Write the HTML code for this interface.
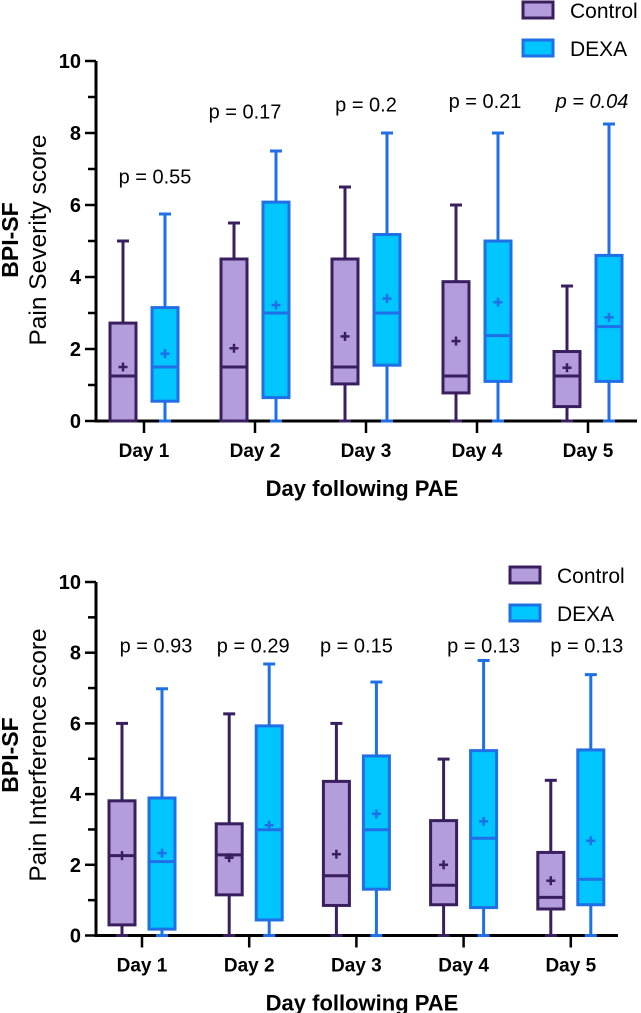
<!DOCTYPE html>
<html><head><meta charset="utf-8"><style>
body{margin:0;background:#fff}
svg{display:block;font-family:"Liberation Sans",Arial,sans-serif}
</style></head><body>
<svg id="chart" width="641" height="1013" viewBox="0 0 641 1013"></svg>
<script>
const days=["Day 1","Day 2","Day 3","Day 4","Day 5"];
// [min,q1,median,q3,max,mean]
const sevControl=[[0,0,1.25,2.72,5,1.5],[0,0,1.5,4.5,5.5,2.02],[0,1.03,1.5,4.5,6.5,2.35],[0,0.78,1.25,3.87,6,2.22],[0,0.4,1.25,1.93,3.75,1.48]];
const sevDexa=[[0,0.55,1.5,3.15,5.75,1.87],[0,0.65,3,6.08,7.5,3.22],[0,1.55,3,5.18,8,3.4],[0,1.1,2.37,5,8,3.3],[0,1.1,2.62,4.6,8.25,2.88]];
const sevP=["p = 0.55","p = 0.17","p = 0.2","p = 0.21","p = 0.04"];
const sevPVal=[6.6,8.4,8.6,8.7,8.7];
const intControl=[[0,0.3,2.26,3.81,6,2.26],[0,1.15,2.28,3.16,6.27,2.2],[0,0.85,1.69,4.36,6,2.3],[0,0.87,1.42,3.25,4.99,2.0],[0,0.75,1.08,2.35,4.39,1.55]];
const intDexa=[[0,0.18,2.09,3.89,6.98,2.33],[0,0.44,2.99,5.93,7.68,3.12],[0,1.31,2.99,5.08,7.17,3.44],[0,0.79,2.75,5.23,7.78,3.23],[0,0.87,1.59,5.25,7.38,2.68]];
const intP=["p = 0.93","p = 0.29","p = 0.15","p = 0.13","p = 0.13"];
const intPVal=[8.0,8.0,8.0,8.0,8.0];
const yTicks=[0,2,4,6,8,10];

const svg=document.getElementById('chart');
const NS='http://www.w3.org/2000/svg';
function mk(tag,attrs,parent){const e=document.createElementNS(NS,tag);for(const k in attrs)e.setAttribute(k,attrs[k]);(parent||svg).appendChild(e);return e;}
const CF='#b39ddb',CS='#3a1f5f',DF='#00c6ff',DS='#1f6fe6';

function panel(cfg){
  const g=mk('g',{});
  
  
  const y=v=>cfg.y0-(cfg.y0-cfg.y10)*v/10;
  const x=i=>cfg.x1+cfg.dx*i;
  const ya=mk('line',{x1:cfg.ax,y1:cfg.y10,x2:cfg.ax,y2:cfg.y0+1.5,stroke:'#000','stroke-width':3},g);
  
  const xa=mk('line',{x1:cfg.ax-1,y1:cfg.y0,x2:cfg.xend,y2:cfg.y0,stroke:'#000','stroke-width':3},g);
  
  for(let v=0;v<=10;v++){
    const major=v%2===0;
    mk('line',{x1:cfg.ax-(major?11:8),y1:y(v),x2:cfg.ax,y2:y(v),stroke:'#000','stroke-width':2.5},g);
  }
  yTicks.forEach(v=>{
    const t=mk('text',{x:cfg.ax-15,y:y(v)+7,'text-anchor':'end','font-size':20,'font-weight':'bold'},g);
    t.textContent=v;
    
  });
  days.forEach((d,i)=>{
    mk('line',{x1:x(i),y1:cfg.y0,x2:x(i),y2:cfg.y0+12,stroke:'#000','stroke-width':2.5},g);
    const t=mk('text',{x:x(i),y:cfg.y0+36,'text-anchor':'middle','font-size':19,'font-weight':'bold'},g);
    t.textContent=d;
    
  });
  function box(cx,s,fill,stroke,name){
    const b=mk('g',{},g);
    
    const w=26,cap=12;
    mk('line',{x1:cx,y1:y(s[0]),x2:cx,y2:y(s[1]),stroke:stroke,'stroke-width':3},b);
    mk('line',{x1:cx,y1:y(s[3]),x2:cx,y2:y(s[4]),stroke:stroke,'stroke-width':3},b);
    mk('line',{x1:cx-cap/2,y1:y(s[4]),x2:cx+cap/2,y2:y(s[4]),stroke:stroke,'stroke-width':3},b);
    mk('line',{x1:cx-cap/2,y1:y(s[0]),x2:cx+cap/2,y2:y(s[0]),stroke:stroke,'stroke-width':3},b);
    mk('rect',{x:cx-w/2,y:y(s[3]),width:w,height:Math.max(0,y(s[1])-y(s[3])),fill:fill,stroke:stroke,'stroke-width':3},b);
    mk('line',{x1:cx-w/2,y1:y(s[2]),x2:cx+w/2,y2:y(s[2]),stroke:stroke,'stroke-width':3},b);
    mk('line',{x1:cx-4.5,y1:y(s[5]),x2:cx+4.5,y2:y(s[5]),stroke:stroke,'stroke-width':2.5},b);
    mk('line',{x1:cx,y1:y(s[5])-4.5,x2:cx,y2:y(s[5])+4.5,stroke:stroke,'stroke-width':2.5},b);
  }
  days.forEach((d,i)=>{
    box(x(i)-cfg.off,cfg.c[i],CF,CS,'control-box-day-'+(i+1));
    box(x(i)+cfg.off,cfg.d[i],DF,DS,'dexa-box-day-'+(i+1));
    const t=mk('text',{x:x(i)+cfg.poff[i],y:y(cfg.pv[i]),'text-anchor':'middle','font-size':20},g);
    t.textContent=cfg.p[i];
    if(cfg.italic===i)t.setAttribute('font-style','italic');
    
  });
  const t1=mk('text',{transform:`translate(${cfg.ty1},${cfg.tyc}) rotate(-90)`,'text-anchor':'middle','font-size':23,'font-weight':'bold'},g);
  t1.textContent='BPI-SF';
  const t2=mk('text',{transform:`translate(${cfg.ty2},${cfg.tyc}) rotate(-90)`,'text-anchor':'middle','font-size':24.5},g);
  t2.textContent=cfg.ytitle;
  const xt=mk('text',{x:cfg.xtx,y:cfg.y0+75,'text-anchor':'middle','font-size':22,'font-weight':'bold'},g);
  xt.textContent='Day following PAE';
  [['Control',CF,CS],['DEXA',DF,DS]].forEach((L,k)=>{
    const lg=mk('g',{},g);
    
    const ly=cfg.ly+k*38;
    mk('rect',{x:cfg.lx,y:ly,width:30,height:16,fill:L[1],stroke:L[2],'stroke-width':3},lg);
    const t=mk('text',{x:cfg.lx+47,y:ly+16,'font-size':21},lg);t.textContent=L[0];
  });
}
panel({name:'pain-severity-chart',ax:96,y0:421,y10:61,x1:144,dx:111,off:21,xend:637,c:sevControl,d:sevDexa,p:sevP,pv:sevPVal,poff:[11,-10,0,8,4],italic:4,ty1:18,ty2:46,tyc:240,ytitle:'Pain Severity score',xtx:362,lx:523,ly:2});
panel({name:'pain-interference-chart',ax:96,y0:935.5,y10:582,x1:142,dx:107.2,off:20,xend:618,c:intControl,d:intDexa,p:intP,pv:intPVal,poff:[14,4,0,20,16],italic:-1,ty1:18,ty2:46,tyc:755,ytitle:'Pain Interference score',xtx:362,lx:510,ly:567});
</script>
</body></html>
